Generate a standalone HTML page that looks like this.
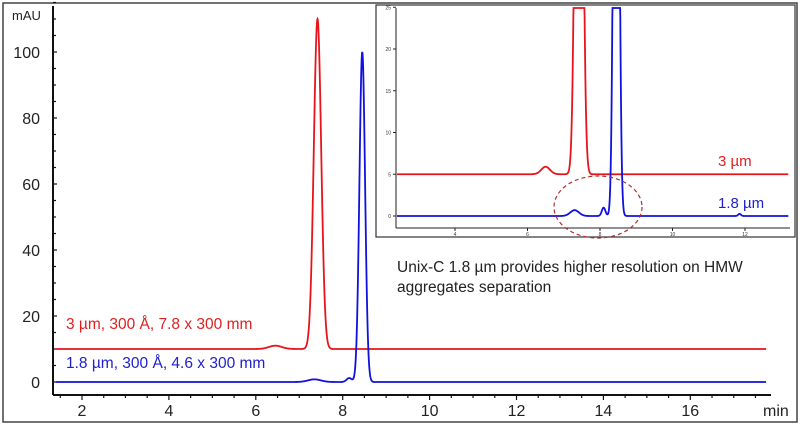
<!DOCTYPE html>
<html><head><meta charset="utf-8"><style>
body{margin:0;background:#fff}
svg{display:block;font-family:"Liberation Sans",sans-serif}
</style></head><body>
<svg id="c" width="800" height="425" viewBox="0 0 800 425">
<rect x="3" y="3" width="794" height="419" fill="#fff" stroke="#444" stroke-width="1.5"/>
<g id="main"></g>
<g id="inset"></g>
<text x="397" y="272" font-size="15.5" fill="#222">Unix-C 1.8 µm provides higher resolution on HMW</text>
<text x="397" y="292" font-size="15.5" fill="#222">aggregates separation</text>
<text x="66" y="329" font-size="15.5" fill="#e02020">3 µm, 300 Å, 7.8 x 300 mm</text>
<text x="66" y="368" font-size="15.5" fill="#2020d0">1.8 µm, 300 Å, 4.6 x 300 mm</text>
</svg>
<script>
// Data
const redPeaksT=[6.45,7.42];const redPeaksH=[1.0,100];const redPeaksW=[0.15,0.085];const redBase=10;
const bluePeaksT=[7.35,8.15,8.45];const bluePeaksH=[0.8,1.2,100];const bluePeaksW=[0.15,0.06,0.065];const blueBase=0;
const xTicks=[2,4,6,8,10,12,14,16];const yTicks=[0,20,40,60,80,100];
const insetXTicks=[4,6,8,10,12];const insetYTicks=[0,5,10,15,20,25];
const insetRedBase=5;
const NS="http://www.w3.org/2000/svg";
function mk(p,t,a){const e=document.createElementNS(NS,t);for(const k in a)e.setAttribute(k,a[k]);p.appendChild(e);return e;}
function sig(t,T,H,W,b){let v=b;for(let i=0;i<T.length;i++){const d=(t-T[i])/W[i];v+=H[i]*Math.exp(-0.5*d*d);}
 // tailing
 return v;}
// main axes
const X=t=>82+(t-2)*43.45, Y=v=>382-v*3.3;
const g=document.getElementById('main');
let e=mk(g,'line',{x1:53,y1:6,x2:53,y2:395,stroke:'#111','stroke-width':2});

e=mk(g,'line',{x1:53,y1:395,x2:771,y2:395,stroke:'#111','stroke-width':2});

for(let v=0;v<=115;v+=5){mk(g,'line',{x1:53,y1:Y(v),x2:v%20==0?57:56,y2:Y(v),stroke:'#111','stroke-width':1.2});}
yTicks.forEach(v=>{const t=mk(g,'text',{x:40,y:Y(v)+6,'font-size':16,'text-anchor':'end',fill:'#222'});t.textContent=v;
});
for(let m=1.5;m<=17.6;m+=0.5){mk(g,'line',{x1:X(m),y1:395,x2:X(m),y2:m%2==0?400:398,stroke:'#111','stroke-width':1.2});}
xTicks.forEach(v=>{const t=mk(g,'text',{x:X(v),y:416,'font-size':16,'text-anchor':'middle',fill:'#222'});t.textContent=v;
});
e=mk(g,'text',{x:12,y:20,'font-size':13,fill:'#222'});e.textContent='mAU';
e=mk(g,'text',{x:763,y:416,'font-size':16,fill:'#222'});e.textContent='min';
function path(par,Xf,Yf,t0,t1,T,H,W,b,col,name,clipY){let d='';for(let t=t0;t<=t1;t+=0.005){let y=Yf(sig(t,T,H,W,b));if(clipY!==undefined)y=Math.max(y,clipY);d+=(d?'L':'M')+Xf(t).toFixed(2)+','+y.toFixed(2);}
 const p=mk(par,'path',{d:d,fill:'none',stroke:col,'stroke-width':1.8});}
path(g,X,Y,1.4,17.75,redPeaksT,redPeaksH.map((h,i)=>i==1?h:h),redPeaksW,redBase,'#e8141c','series-3um');
path(g,X,Y,1.4,17.75,bluePeaksT,bluePeaksH,bluePeaksW,blueBase,'#1010e0','series-1-8um');
// inset
const ig=document.getElementById('inset');
e=mk(ig,'rect',{x:376,y:5,width:419,height:232,fill:'#fff',stroke:'#333','stroke-width':1.2});

const IX=t=>455+(t-4)*36.25, IY=v=>216-v*8.35;
mk(ig,'line',{x1:396,y1:8,x2:396,y2:228,stroke:'#222','stroke-width':1});
mk(ig,'line',{x1:396,y1:228,x2:790,y2:228,stroke:'#222','stroke-width':1});
insetYTicks.forEach(v=>{mk(ig,'line',{x1:393,y1:IY(v),x2:396,y2:IY(v),stroke:'#222'});const t=mk(ig,'text',{x:391,y:IY(v)+2,'font-size':5,'text-anchor':'end',fill:'#333'});t.textContent=v;});
insetXTicks.forEach(v=>{mk(ig,'line',{x1:IX(v),y1:228,x2:IX(v),y2:231,stroke:'#222'});const t=mk(ig,'text',{x:IX(v),y:236,'font-size':5,'text-anchor':'middle',fill:'#333'});t.textContent=v;});
path(ig,IX,IY,2.4,13.2,[6.5,7.42],[0.9,100],[0.12,0.085],insetRedBase,'#e8141c','inset-series-3um',8);
path(ig,IX,IY,2.4,13.2,[7.3,8.1,8.45,11.85],[0.7,1.0,100,0.25],[0.12,0.05,0.065,0.04],0,'#1010e0','inset-series-1-8um',8);
e=mk(ig,'ellipse',{cx:598,cy:207,rx:44,ry:31,fill:'none',stroke:'#b03030','stroke-width':1.2,'stroke-dasharray':'4,3'});

e=mk(ig,'text',{x:718,y:166,'font-size':15,fill:'#e02020'});e.textContent='3 µm';
e=mk(ig,'text',{x:718,y:208,'font-size':15,fill:'#2020d0'});e.textContent='1.8 µm';
</script>
</body></html>
